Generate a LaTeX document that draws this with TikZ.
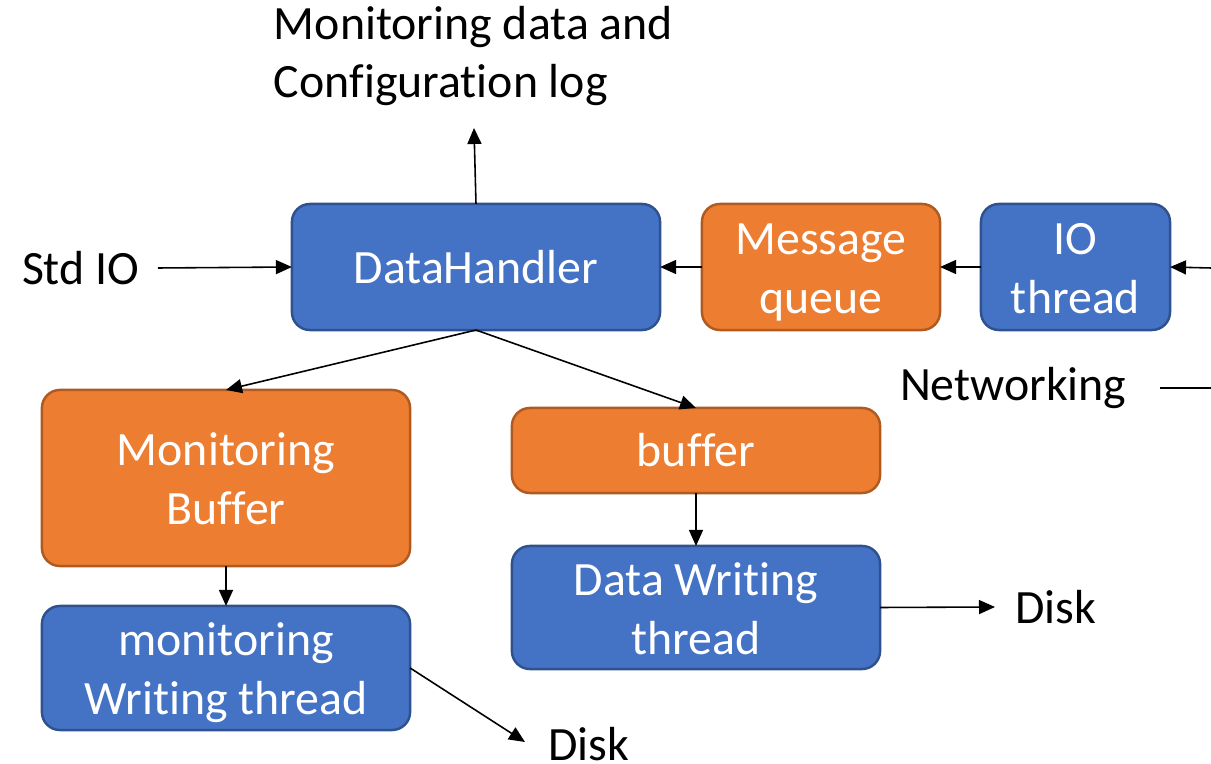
\documentclass[tikz,border=0pt]{standalone}
\usepackage{fontspec}
\setmainfont{Carlito}[Ligatures=NoCommon]
\usetikzlibrary{arrows.meta}
\definecolor{blueFill}{HTML}{4472C4}
\definecolor{blueEdge}{HTML}{2F528F}
\definecolor{orangeFill}{HTML}{ED7D31}
\definecolor{orangeEdge}{HTML}{AE5A21}
% two centred lines, set slightly low in their box (box size kept as is)
\newcommand{\twolines}[2]{\raisebox{-0.055cm}[\height][\depth]{\begin{tabular}{@{}c@{}}#1\\#2\end{tabular}}}
\tikzset{
  box/.style={rounded corners=0.18cm, line width=0.7pt, inner sep=0pt, outer sep=0pt,
    align=center, text=white, font=\fontsize{13.6pt}{16.7pt}\selectfont},
  bluebox/.style={box, fill=blueFill, draw=blueEdge},
  orangebox/.style={box, fill=orangeFill, draw=orangeEdge},
  lbl/.style={inner sep=0pt, outer sep=0pt, align=left, text=black, font=\fontsize{13.6pt}{16.4pt}\selectfont},
  conn/.style={line width=0.45pt, -{Triangle[length=1.6mm,width=1.4mm]}},
}
\begin{document}
\begin{tikzpicture}[x=0.01cm, y=-0.01cm]
\useasboundingbox (0,0) rectangle (1211,764);

% processing blocks
\node[bluebox, minimum width=3.68cm, minimum height=1.26cm] (dh) at (476,267) {DataHandler};
\node[orangebox, minimum width=2.38cm, minimum height=1.26cm] (mq) at (821,267) {\twolines{Message}{queue}};
\node[bluebox, minimum width=1.89cm, minimum height=1.26cm] (io) at (1075.5,267) {\twolines{IO}{thread}};
\node[orangebox, minimum width=3.68cm, minimum height=1.76cm] (mb) at (226,478) {\twolines{Monitoring}{Buffer}};
\node[orangebox, minimum width=3.68cm, minimum height=0.85cm] (buf) at (696,450.5) {buffer};
\node[bluebox, minimum width=3.68cm, minimum height=1.23cm] (dwt) at (696,607.5) {\twolines{Data Writing}{thread}};
\node[bluebox, minimum width=3.68cm, minimum height=1.24cm] (mwt) at (226,668) {\twolines{monitoring}{Writing thread}};

% outside labels
\node[lbl, anchor=west] (log) at (274,56) {Monitoring data and\\Configuration log};
\node[lbl, anchor=west] (std) at (22,268) {Std IO};
\node[lbl, anchor=west] (net) at (900,388) {Networking};
\node[lbl, anchor=west] (disk1) at (1015,607) {Disk};
\node[lbl, anchor=west] (disk2) at (548,744) {Disk};

% free ends of connectors
\coordinate (logIn) at (474,128);
\coordinate (stdOut) at (158,268);
\coordinate (netIn) at (1211,268);
\coordinate (netA) at (1160,388);
\coordinate (netB) at (1211,388);
\coordinate (disk1In) at (995,607);
\coordinate (disk2In) at (525,742);

% connectors
\draw[conn] (dh.north) -- (logIn);
\draw[conn] (stdOut) -- (dh.west);
\draw[conn] (mq.west) -- (dh.east);
\draw[conn] (io.west) -- (mq.east);
\draw[conn] (netIn) -- (io.east);
\draw[line width=0.45pt] (netA) -- (netB);
\draw[conn] (dh.south) -- (mb.north);
\draw[conn] (dh.south) -- (buf.north);
\draw[conn] (mb.south) -- (mwt.north);
\draw[conn] (buf.south) -- (dwt.north);
\draw[conn] (dwt.east) -- (disk1In);
\draw[conn] (mwt.east) -- (disk2In);
\end{tikzpicture}
\end{document}
